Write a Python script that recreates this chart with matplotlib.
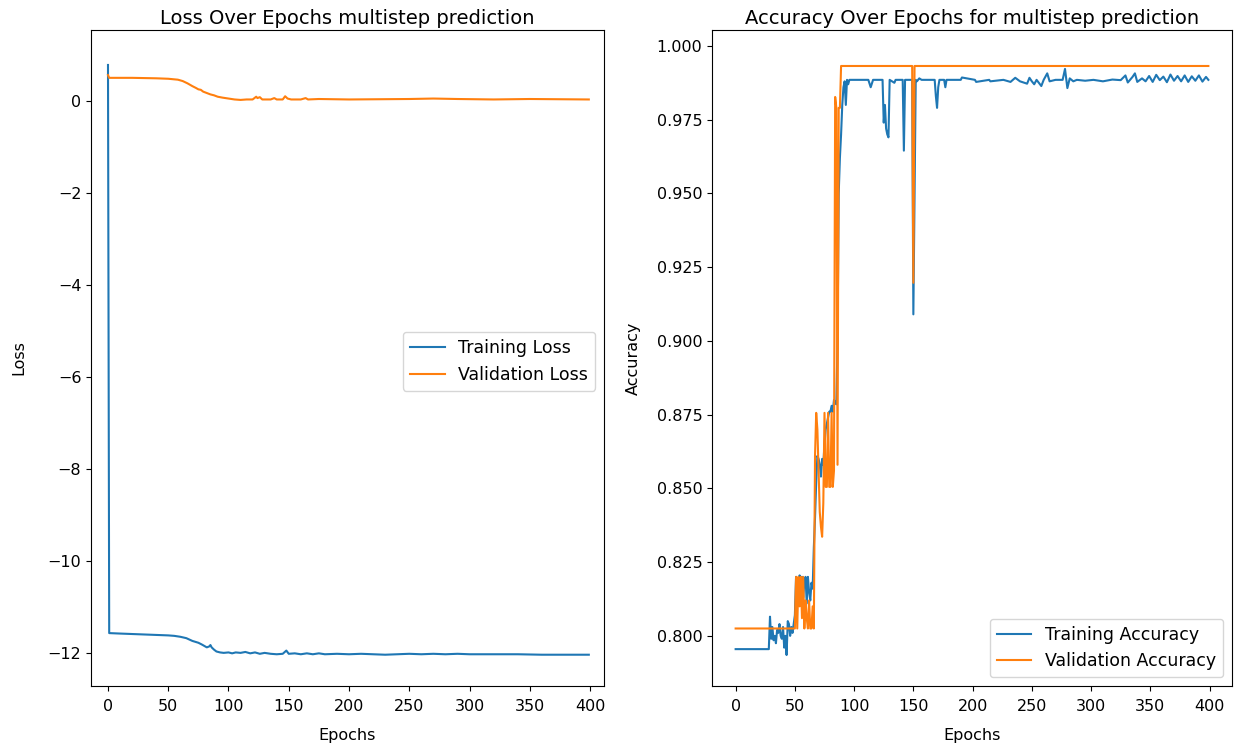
import matplotlib
matplotlib.use("Agg")
import numpy as np
import matplotlib.pyplot as plt

# ---------------- loss history (epoch, value) ----------------
train_loss_ep = [0, 1, 10, 20, 30, 40, 50, 55, 60, 65, 70, 75, 78, 80, 82, 84, 85, 86, 88, 90,
                 93, 96, 100, 103, 106, 110, 114, 118, 122, 126, 130, 135, 140, 145, 148, 150,
                 155, 160, 165, 170, 175, 180, 190, 200, 210, 220, 230, 240, 250, 260, 270,
                 280, 290, 300, 320, 340, 360, 380, 399]
train_loss = [0.78, -11.57, -11.58, -11.59, -11.60, -11.61, -11.62, -11.63, -11.65, -11.68,
              -11.74, -11.78, -11.82, -11.85, -11.88, -11.86, -11.83, -11.88, -11.93, -11.97,
              -11.99, -12.00, -11.99, -12.01, -11.99, -12.00, -11.98, -12.01, -11.99, -12.02,
              -12.00, -12.02, -12.03, -12.02, -11.95, -12.02, -12.01, -12.03, -12.01, -12.03,
              -12.01, -12.03, -12.02, -12.03, -12.02, -12.03, -12.04, -12.03, -12.02, -12.03,
              -12.02, -12.03, -12.02, -12.03, -12.03, -12.03, -12.04, -12.04, -12.04]

val_loss_ep = [0, 1, 20, 40, 50, 58, 62, 66, 70, 73, 75, 77, 79, 82, 85, 88, 91, 95, 100, 105,
               110, 115, 120, 123, 124, 126, 128, 135, 138, 140, 145, 147, 149, 152, 160, 164,
               166, 175, 200, 250, 270, 290, 320, 350, 399]
val_loss = [0.56, 0.50, 0.50, 0.49, 0.48, 0.46, 0.43, 0.38, 0.32, 0.28, 0.25, 0.24, 0.20, 0.17,
            0.14, 0.12, 0.09, 0.07, 0.05, 0.03, 0.02, 0.03, 0.03, 0.09, 0.06, 0.08, 0.03, 0.03,
            0.06, 0.03, 0.03, 0.10, 0.05, 0.03, 0.03, 0.06, 0.03, 0.04, 0.03, 0.04, 0.05, 0.04,
            0.03, 0.04, 0.03]

# ---------------- accuracy history (epoch, value) ----------------
train_acc_ep = [0, 28, 29, 30, 31, 32, 33, 34, 35, 36, 37, 38, 39, 40, 41, 42, 43, 44, 45, 46,
                47, 48, 49, 50, 51, 52, 53, 54, 55, 56, 57, 58, 59, 60, 61, 62, 63, 64, 65, 66,
                67, 68, 69, 70, 71, 72, 73, 74, 75, 76, 77, 78, 79, 80, 81, 82, 83, 84, 85, 86,
                87, 88, 89, 90, 91, 92, 93, 94, 95, 96, 112, 114, 116, 124, 125, 126, 127, 128,
                129, 130, 134, 135, 141, 142, 143, 149, 150, 152, 153, 155, 157, 168, 169, 170,
                171, 172, 176, 177, 178, 190, 191, 202, 203, 214, 215, 226, 232, 236, 240, 246,
                248, 250, 252, 254, 258, 260, 263, 265, 270, 276, 278, 280, 282, 285, 288, 295,
                302, 310, 318, 325, 329, 331, 335, 337, 339, 343, 346, 349, 352, 355, 358, 361,
                364, 367, 370, 373, 376, 379, 382, 385, 388, 391, 394, 397, 399]
train_acc = [0.7955, 0.7955, 0.8065, 0.7990, 0.8030, 0.7985, 0.8000, 0.7975, 0.8020, 0.8010,
             0.8040, 0.8000, 0.7990, 0.8030, 0.7960, 0.8000, 0.7935, 0.8050, 0.8040, 0.8000,
             0.8030, 0.8010, 0.8040, 0.8070, 0.8200, 0.8190, 0.8120, 0.8205, 0.8150, 0.8200,
             0.8130, 0.8180, 0.8200, 0.8110, 0.8200, 0.8150, 0.8120, 0.8180, 0.8160, 0.8300,
             0.8400, 0.8520, 0.8610, 0.8600, 0.8580, 0.8540, 0.8600, 0.8580, 0.8650, 0.8700,
             0.8720, 0.8740, 0.8760, 0.8760, 0.8780, 0.8760, 0.8800, 0.8790, 0.8785, 0.9000,
             0.9500, 0.9620, 0.9700, 0.9800, 0.9860, 0.9880, 0.9800, 0.9885, 0.9870, 0.9885,
             0.9885, 0.9860, 0.9885, 0.9885, 0.9740, 0.9800, 0.9720, 0.9700, 0.9690, 0.9885,
             0.9875, 0.9885, 0.9885, 0.9645, 0.9885, 0.9885, 0.9090, 0.9885, 0.9880, 0.9890,
             0.9885, 0.9885, 0.9830, 0.9790, 0.9860, 0.9885, 0.9885, 0.9860, 0.9885, 0.9885,
             0.9893, 0.9885, 0.9878, 0.9885, 0.9880, 0.9885, 0.9878, 0.9892, 0.9880, 0.9872,
             0.9892, 0.9880, 0.9870, 0.9885, 0.9864, 0.9885, 0.9907, 0.9880, 0.9885, 0.9885,
             0.9922, 0.9857, 0.9890, 0.9880, 0.9885, 0.9882, 0.9885, 0.9880, 0.9886, 0.9884,
             0.9900, 0.9876, 0.9895, 0.9907, 0.9878, 0.9890, 0.9880, 0.9898, 0.9878, 0.9902,
             0.9884, 0.9896, 0.9877, 0.9903, 0.9882, 0.9898, 0.9880, 0.9900, 0.9878, 0.9897,
             0.9882, 0.9900, 0.9879, 0.9895, 0.9885]

val_acc_ep = [0, 50, 51, 52, 53, 54, 55, 56, 57, 58, 59, 60, 61, 62, 63, 64, 65, 66, 67, 68,
              69, 70, 71, 72, 73, 74, 75, 76, 77, 78, 79, 80, 81, 82, 83, 84, 85, 86, 87, 88,
              89, 149, 150, 151, 399]
val_acc = [0.8025, 0.8025, 0.8200, 0.8025, 0.8200, 0.8100, 0.8200, 0.8060, 0.8200, 0.8025,
           0.8120, 0.8060, 0.8025, 0.8120, 0.8025, 0.8025, 0.8100, 0.8025, 0.8610, 0.8756,
           0.8700, 0.8560, 0.8420, 0.8370, 0.8336, 0.8450, 0.8756, 0.8505, 0.8505, 0.8756,
           0.8505, 0.8505, 0.8756, 0.8505, 0.8560, 0.9827, 0.9790, 0.8580, 0.9790, 0.9790,
           0.9932, 0.9932, 0.9197, 0.9932, 0.9932]

plt.rcParams["font.size"] = 11.5
plt.rcParams["xtick.major.pad"] = 6

fig = plt.figure(figsize=(12.4, 7.48), dpi=100)
ax1 = fig.add_axes([91 / 1240, 1 - 686 / 748, 513 / 1240, 656 / 748])
ax2 = fig.add_axes([712 / 1240, 1 - 686 / 748, 520 / 1240, 656 / 748])

# Loss
ax1.plot(train_loss_ep, train_loss, label="Training Loss")
ax1.plot(val_loss_ep, val_loss, label="Validation Loss")
ax1.set_title("Loss Over Epochs multistep prediction", fontsize=14, pad=4)
ax1.set_xlabel("Epochs", labelpad=10)
ax1.set_ylabel("Loss", labelpad=15)
ax1.set_xticks(np.arange(0, 401, 50))
ax1.set_xlim(-14.1, 411.6)
ax1.set_ylim(-12.72, 1.54)
ax1.legend(loc="center right", fontsize=12.5, bbox_to_anchor=(1.0, 0.495))

# Accuracy
ax2.plot(train_acc_ep, train_acc, label="Training Accuracy")
ax2.plot(val_acc_ep, val_acc, label="Validation Accuracy")
ax2.set_title("Accuracy Over Epochs for multistep prediction", fontsize=14, pad=4)
ax2.set_xlabel("Epochs", labelpad=10)
ax2.set_ylabel("Accuracy", labelpad=11)
ax2.set_xticks(np.arange(0, 401, 50))
ax2.set_ylim(0.783, 1.0054)
ax2.yaxis.set_major_formatter(matplotlib.ticker.FormatStrFormatter("%.3f"))
ax2.legend(loc="lower right", fontsize=12.5)

plt.savefig("out.png", dpi=100)
